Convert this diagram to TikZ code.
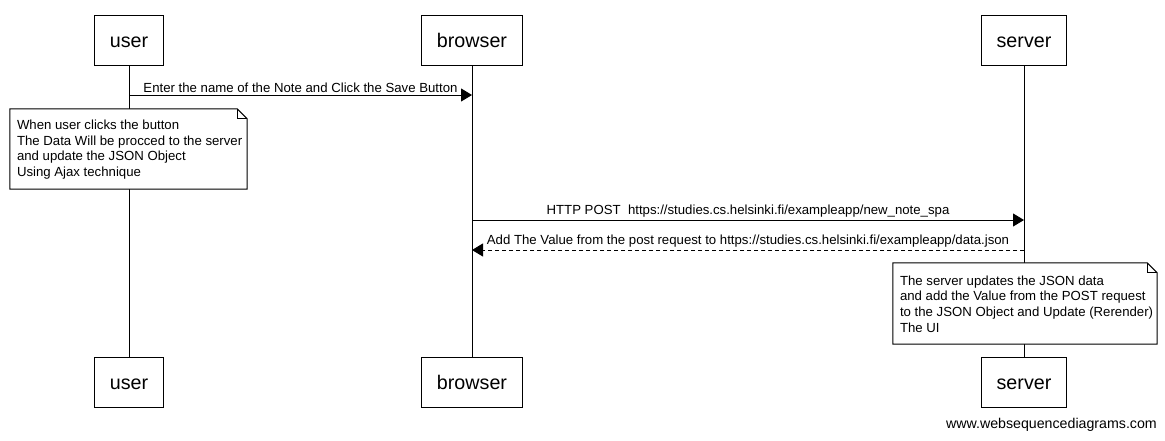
\documentclass[tikz,border=0pt]{standalone}
\usepackage{fontspec}
\setmainfont{Liberation Sans}
\usetikzlibrary{arrows.meta,calc}
\tikzset{
  actor/.style={draw, line width=1pt, fill=white, inner xsep=15pt, inner ysep=0pt,
    minimum height=50pt, text height=14pt, text depth=0pt, font=\fontsize{19.7}{24}\selectfont},
  lifeline/.style={line width=1pt},
  msg/.style={line width=1pt, -{Triangle[length=11pt,width=13pt]}},
  reply/.style={msg, dash pattern=on 4pt off 3pt},
  msglabel/.style={font=\fontsize{13.2}{15}\selectfont, inner sep=0pt, anchor=south},
  notebox/.style={inner sep=0pt, font=\fontsize{13.2}{15.7}\selectfont, align=left},
}
\newcommand{\notefold}[1]{%
  \fill[white] (#1.north west) -- ($(#1.north east)+(-10,0)$) -- ($(#1.north east)+(0,10)$) -- (#1.south east) -- (#1.south west) -- cycle;
  \draw[line width=1pt] (#1.north west) -- ($(#1.north east)+(-10,0)$) -- ($(#1.north east)+(0,10)$) -- (#1.south east) -- (#1.south west) -- cycle;
  \draw[line width=1pt] ($(#1.north east)+(-10,0)$) -- ($(#1.north east)+(-10,10)$) -- ($(#1.north east)+(0,10)$);
}
\begin{document}
\begin{tikzpicture}[x=1pt,y=-1pt]
\useasboundingbox (0,0) rectangle (1165,440);
% participants
\node[actor] (ut) at (129,40) {user};
\node[actor] (bt) at (472,40) {browser};
\node[actor] (st) at (1024,40) {server};
\node[actor] (ub) at (129,382) {user};
\node[actor] (bb) at (472,382) {browser};
\node[actor] (sb) at (1024,382) {server};
% lifelines
\draw[lifeline] (ut.south) -- (ub.north);
\draw[lifeline] (bt.south) -- (bb.north);
\draw[lifeline] (st.south) -- (sb.north);
% message points
\coordinate (m1a) at (129,95);
\coordinate (m1b) at (472,95);
\coordinate (m2a) at (472,220);
\coordinate (m2b) at (1024,220);
\coordinate (m3a) at (1024,250);
\coordinate (m3b) at (472,250);
\draw[msg] (m1a) -- node[msglabel, above=2pt] (l1) {Enter the name of the Note and Click the Save Button} (m1b);
\draw[msg] (m2a) -- node[msglabel, above=2pt] (l2) {HTTP POST\ \ https://studies.cs.helsinki.fi/exampleapp/new\_note\_spa} (m2b);
\draw[reply] (m3a) -- node[msglabel, above=2pt] (l3) {Add The Value from the post request to https://studies.cs.helsinki.fi/exampleapp/data.json} (m3b);
% notes
\node[notebox, minimum width=237pt, minimum height=80pt] (n1) at (128.5,149) {};
\notefold{n1}
\node[notebox, anchor=west] (t1) at ($(n1.west)+(7,0.5)$) {When user clicks the button\\The Data Will be procced to the server\\and update the JSON Object\\Using Ajax technique};
\node[notebox, minimum width=264pt, minimum height=81pt] (n2) at (1025,303.5) {};
\notefold{n2}
\node[notebox, anchor=west] (t2) at ($(n2.west)+(7,0.5)$) {The server updates the JSON data\\and add the Value from the POST request\\to the JSON Object and Update (Rerender)\\The UI};
% footer
\node[font=\fontsize{14.2}{17}\selectfont, anchor=east, inner sep=0pt] (ft) at (1157,425) {www.websequencediagrams.com};
\end{tikzpicture}
\end{document}
